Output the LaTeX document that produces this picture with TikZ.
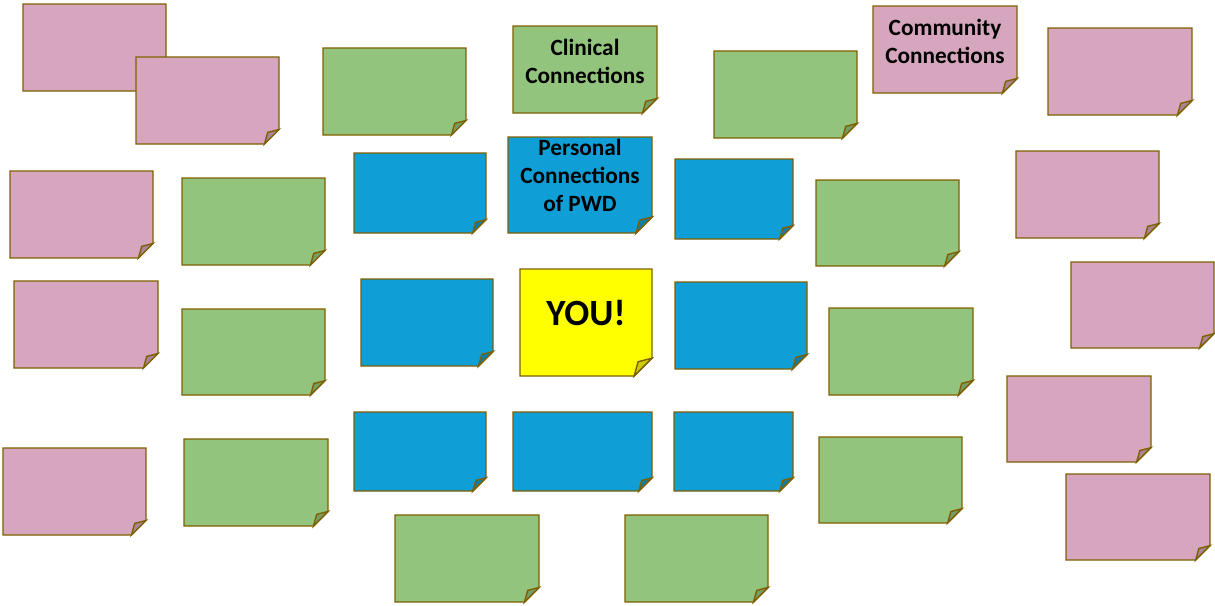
\documentclass[tikz,border=0pt]{standalone}
\usepackage{fontspec}
\setmainfont{Carlito}
\definecolor{pinkfill}{HTML}{D5A6BD}
\definecolor{greenfill}{HTML}{93C47D}
\definecolor{bluefill}{HTML}{0F9ED5}
\definecolor{yellowfill}{HTML}{FFFF00}
\definecolor{noteedge}{HTML}{7F6000}
\tikzset{
  notebody/.style={draw=noteedge, line width=1.4pt, line join=miter},
  notetext/.style={font=\bfseries\fontsize{23.3}{28}\selectfont, align=center, inner sep=0pt, anchor=south, text=black},
}
\newcommand\stickynote[6]{%
  \node[inner sep=0pt, outer sep=0pt, minimum width={(#4)-(#2)}, minimum height={(#5)-(#3)}] (#1) at ({((#2)+(#4))/2},{((#3)+(#5))/2}) {};
  \pgfmathsetmacro\fc{min((#4)-(#2),(#5)-(#3))/6}%
  \pgfmathsetmacro\fa{0.78*\fc}%
  \pgfmathsetmacro\fb{0.8*\fc}%
  \path[notebody, fill=#6] (#1.north west) -- (#1.north east) -- ([yshift=\fc pt]#1.south east) -- ([xshift=-\fc pt]#1.south east) -- (#1.south west) -- cycle;
  \path[notebody, fill=#6!80!black] ([xshift=-\fc pt]#1.south east) -- ([xshift=-\fa pt, yshift=\fb pt]#1.south east) -- ([yshift=\fc pt]#1.south east) -- cycle;
}
\begin{document}
\begin{tikzpicture}[x=1pt, y=-1pt]
\useasboundingbox (0,0) rectangle (1215,605);
% pink notes
\stickynote{p1}{23}{4}{166}{91}{pinkfill}
\stickynote{p2}{136}{57}{279}{144}{pinkfill}
\stickynote{p3}{10}{171}{153}{258}{pinkfill}
\stickynote{p4}{14}{281}{158}{368}{pinkfill}
\stickynote{p5}{3}{448}{146}{535}{pinkfill}
\stickynote{p6}{873}{6}{1017}{93}{pinkfill}
\stickynote{p7}{1048}{28}{1192}{115}{pinkfill}
\stickynote{p8}{1016}{151}{1159}{238}{pinkfill}
\stickynote{p9}{1071}{262}{1214}{348}{pinkfill}
\stickynote{p10}{1007}{376}{1151}{462}{pinkfill}
\stickynote{p11}{1066}{474}{1210}{560}{pinkfill}
% green notes
\stickynote{g1}{323}{48}{466}{135}{greenfill}
\stickynote{g2}{513}{26}{657}{113}{greenfill}
\stickynote{g3}{714}{51}{857}{138}{greenfill}
\stickynote{g4}{182}{178}{325}{265}{greenfill}
\stickynote{g5}{816}{180}{959}{266}{greenfill}
\stickynote{g6}{182}{309}{325}{395}{greenfill}
\stickynote{g7}{829}{308}{973}{395}{greenfill}
\stickynote{g8}{184}{439}{328}{526}{greenfill}
\stickynote{g9}{819}{437}{962}{523}{greenfill}
\stickynote{g10}{395}{515}{539}{602}{greenfill}
\stickynote{g11}{625}{515}{768}{602}{greenfill}
% blue notes
\stickynote{b1}{354}{153}{486}{233}{bluefill}
\stickynote{b2}{508}{137}{652}{233}{bluefill}
\stickynote{b3}{675}{159}{793}{239}{bluefill}
\stickynote{b4}{361}{279}{493}{366}{bluefill}
\stickynote{b5}{675}{282}{807}{369}{bluefill}
\stickynote{b6}{354}{412}{486}{491}{bluefill}
\stickynote{b7}{513}{412}{652}{491}{bluefill}
\stickynote{b8}{674}{412}{793}{491}{bluefill}
% yellow note
\stickynote{you}{520}{269}{652}{376}{yellowfill}
% texts
\node[notetext] (clintext) at (585,84) {Clinical\\Connections};
\node[notetext] (commtext) at (945,64) {Community\\Connections};
\node[notetext] (perstext) at (580,212) {Personal\\Connections\\of PWD};
\node[notetext, font=\bfseries\fontsize{37}{40}\selectfont] (youtext) at (586,326) {YOU!};
\end{tikzpicture}
\end{document}
